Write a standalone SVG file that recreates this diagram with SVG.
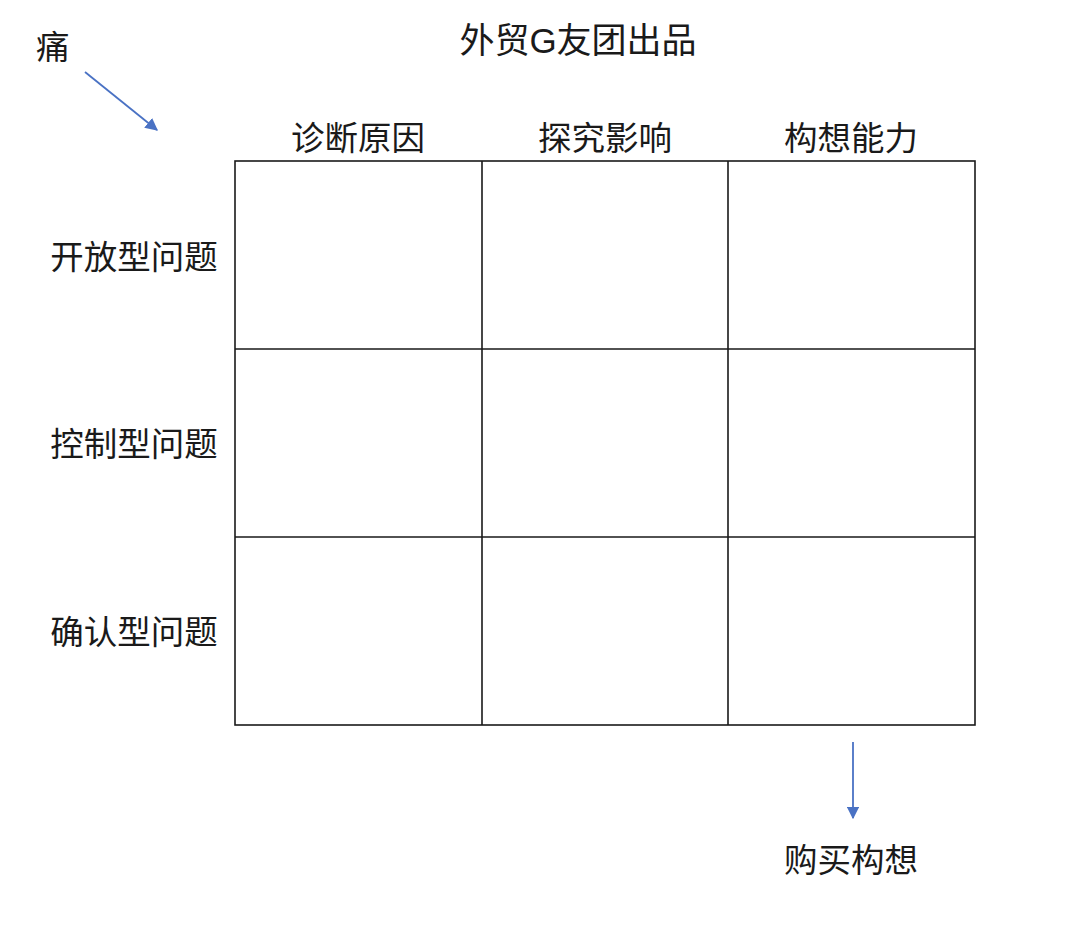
<svg xmlns="http://www.w3.org/2000/svg" width="1080" height="933" viewBox="0 0 1080 933">
<style>
text{font-family:"Liberation Sans","Noto Sans CJK SC",sans-serif;font-size:33.5px;fill:#1a1a1a}
.c{stroke:#1a1a1a;stroke-width:1.6;fill:none}
.a{stroke:#4a72c4;stroke-width:1.8;fill:none}
</style>
<defs><marker id="m" viewBox="0 0 10 10" refX="9" refY="5" markerWidth="7" markerHeight="7" orient="auto"><path d="M0,0L10,5L0,10z" fill="#4a72c4"/></marker></defs>
<rect width="1080" height="933" fill="#fff"/>
<text x="578" y="53" text-anchor="middle" style="font-size:35px">外贸G友团出品</text>
<text x="36" y="59">痛</text>
<g id="headers">
<text x="358" y="150" text-anchor="middle">诊断原因</text>
<text x="605" y="150" text-anchor="middle">探究影响</text>
<text x="851" y="150" text-anchor="middle">构想能力</text>
<text x="134" y="269" text-anchor="middle">开放型问题</text>
<text x="134" y="456" text-anchor="middle">控制型问题</text>
<text x="134" y="644" text-anchor="middle">确认型问题</text>
<text x="851" y="872" text-anchor="middle">购买构想</text>
</g>
<g id="grid">
<rect class="c" x="235" y="161" width="740" height="564"/>
<path class="c" d="M482,161V725M728,161V725M235,349H975M235,537H975"/>
</g>
<g id="connectors">
<path class="a" d="M85,72L157,130" marker-end="url(#m)"/>
<path class="a" d="M853,742V818" marker-end="url(#m)"/>
</g>
</svg>
